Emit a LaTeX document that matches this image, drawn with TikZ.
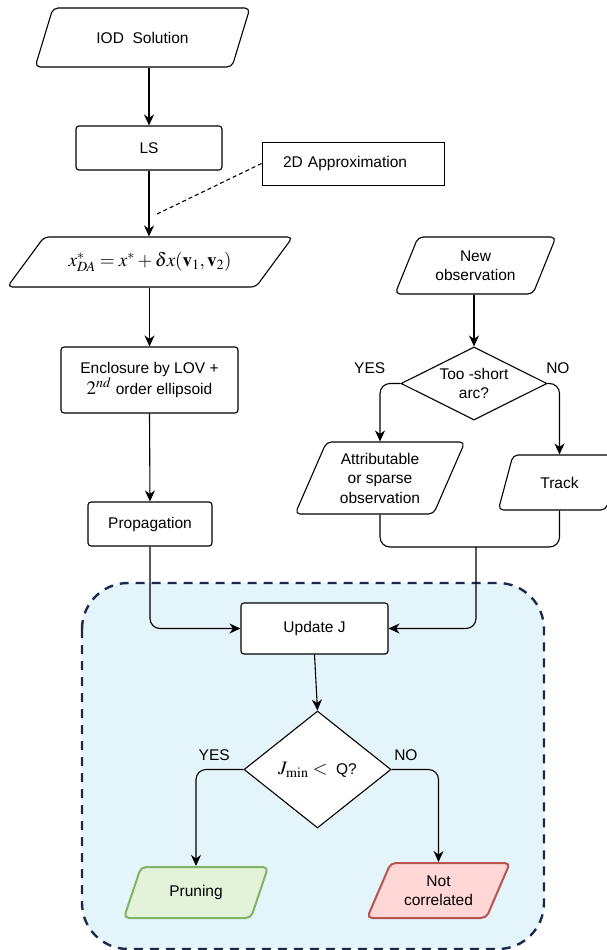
\documentclass[tikz,border=0pt]{standalone}
\usepackage{mathptmx}
\usepackage[no-math]{fontspec}
\setmainfont{Liberation Sans}
\usetikzlibrary{shapes.geometric,arrows.meta}
\definecolor{zoneblue}{HTML}{E4F4FB}
\definecolor{zoneline}{HTML}{1B2B50}
\definecolor{okfill}{HTML}{E2F3DA}
\definecolor{okline}{HTML}{82B366}
\definecolor{nofill}{HTML}{FFD7D7}
\definecolor{noline}{HTML}{B85450}
\newcommand{\bigmath}[1]{{\fontsize{19}{22}\selectfont$#1$}}
\tikzset{
  box/.style={draw,fill=white,line width=1.1pt,rounded corners=3pt,inner sep=0pt,align=center},
  io/.style={trapezium,trapezium stretches=true,draw,fill=white,line width=1.1pt,rounded corners=5pt,inner sep=0pt,align=center},
  test/.style={diamond,draw,fill=white,line width=1.1pt,inner sep=0pt,aspect=2,align=center},
  link/.style={line width=1.1pt},
  arr/.style={-{Stealth[length=11pt,width=10pt,inset=3.5pt]},line width=1.1pt},
  lbl/.style={inner sep=0pt},
}
\begin{document}
\begin{tikzpicture}[x=1pt,y=-1pt,font=\fontsize{15.5}{19.5}\selectfont]
\useasboundingbox (0,0) rectangle (606,950);
%zone
\draw[zoneline,fill=zoneblue,line width=2.4pt,dash pattern=on 9pt off 7pt,rounded corners=46pt] (82,583) rectangle (544,949);
%left column
\node[io,trapezium left angle=51,trapezium right angle=129,minimum width=215pt,minimum height=59pt] (iod) at (142.5,37.5) {IOD\ \ Solution};
\node[box,minimum width=146pt,minimum height=44pt] (ls) at (149,148) {LS};
\node[box,rounded corners=0pt,line width=0.9pt,minimum width=182pt,minimum height=43pt,text width=170pt,align=left] (approx) at (353,163.5) {\hspace*{15pt}2D Approximation};
\node[io,trapezium left angle=35,trapezium right angle=145,minimum width=286pt,minimum height=50pt] (state) at (150,262) {\bigmath{x^*_{DA} = x^* + \delta x(\mathbf{v}_1,\mathbf{v}_2)}};
\node[box,minimum width=177pt,minimum height=66pt] (encl) at (149.5,380) {Enclosure by LOV +\\\bigmath{2^{nd}} order ellipsoid};
\node[box,minimum width=124pt,minimum height=44pt] (prop) at (150,524) {Propagation};
%right column
\node[io,trapezium left angle=62,trapezium right angle=118,minimum width=161pt,minimum height=57pt] (newobs) at (475.5,265.5) {New\\observation};
\node[test,minimum width=146pt,minimum height=73pt] (short) at (474,383.5) {Too -short\\arc?};
\node[io,trapezium left angle=65,trapezium right angle=115,minimum width=170pt,minimum height=72pt] (attr) at (380,478) {Attributable\\or sparse\\observation};
\node[io,trapezium left angle=62,trapezium right angle=118,minimum width=123pt,minimum height=55pt] (track) at (559.5,482.5) {Track};
%zone
\node[box,minimum width=147pt,minimum height=51pt] (updj) at (314.5,628.5) {Update J};
\node[test,minimum width=147pt,minimum height=117pt] (jmin) at (317.5,769.5) {\bigmath{J_{\min}<}\ \ Q?};
\node[io,trapezium left angle=60,trapezium right angle=120,draw=okline,fill=okfill,line width=2pt,minimum width=145pt,minimum height=51pt] (prune) at (196,892.5) {Pruning};
\node[io,trapezium left angle=60.6,trapezium right angle=119.4,draw=noline,fill=nofill,line width=2pt,minimum width=143pt,minimum height=55pt] (notcor) at (438.5,890.5) {Not\\correlated};
%
\draw[arr] (iod.south -| ls.north) -- (ls.north);
\draw[arr] (ls.south) -- (state.north -| ls.south);
\coordinate (hint) at (155,215);
\draw[link,dash pattern=on 4pt off 3pt] (approx.west) -- (hint);
\draw[arr] (state.south -| encl.north) -- (encl.north);
\draw[arr] (encl.south) -- (prop.north);
\draw[arr,rounded corners=10pt] (prop.south) |- (updj.west);
%
\draw[arr] (newobs.south -| short.north) -- (short.north);
\draw[arr,rounded corners=10pt] (short.west) -| (attr.north);
\draw[arr,rounded corners=10pt] (short.east) -| (track.north);
\node[lbl,anchor=south east] (yes1) at ([shift={(-15,-9.5)}]short.west) {YES};
\node[lbl,anchor=south west] (no1) at ([shift={(-1.5,-9.5)}]short.east) {NO};
\coordinate (merge) at (476,547);
\draw[link,rounded corners=10pt] (attr.south) |- (merge) -| (track.south);
\draw[arr,rounded corners=10pt] (merge) |- (updj.east);
%
\draw[arr] (updj.south) -- (jmin.north);
\draw[arr,rounded corners=10pt] (jmin.west) -| (prune.north);
\draw[arr,rounded corners=10pt] (jmin.east) -| (notcor.north);
\node[lbl,anchor=south east] (yes2) at ([shift={(-13.5,-9)}]jmin.west) {YES};
\node[lbl,anchor=south west] (no2) at ([shift={(2.5,-9)}]jmin.east) {NO};
\end{tikzpicture}
\end{document}
